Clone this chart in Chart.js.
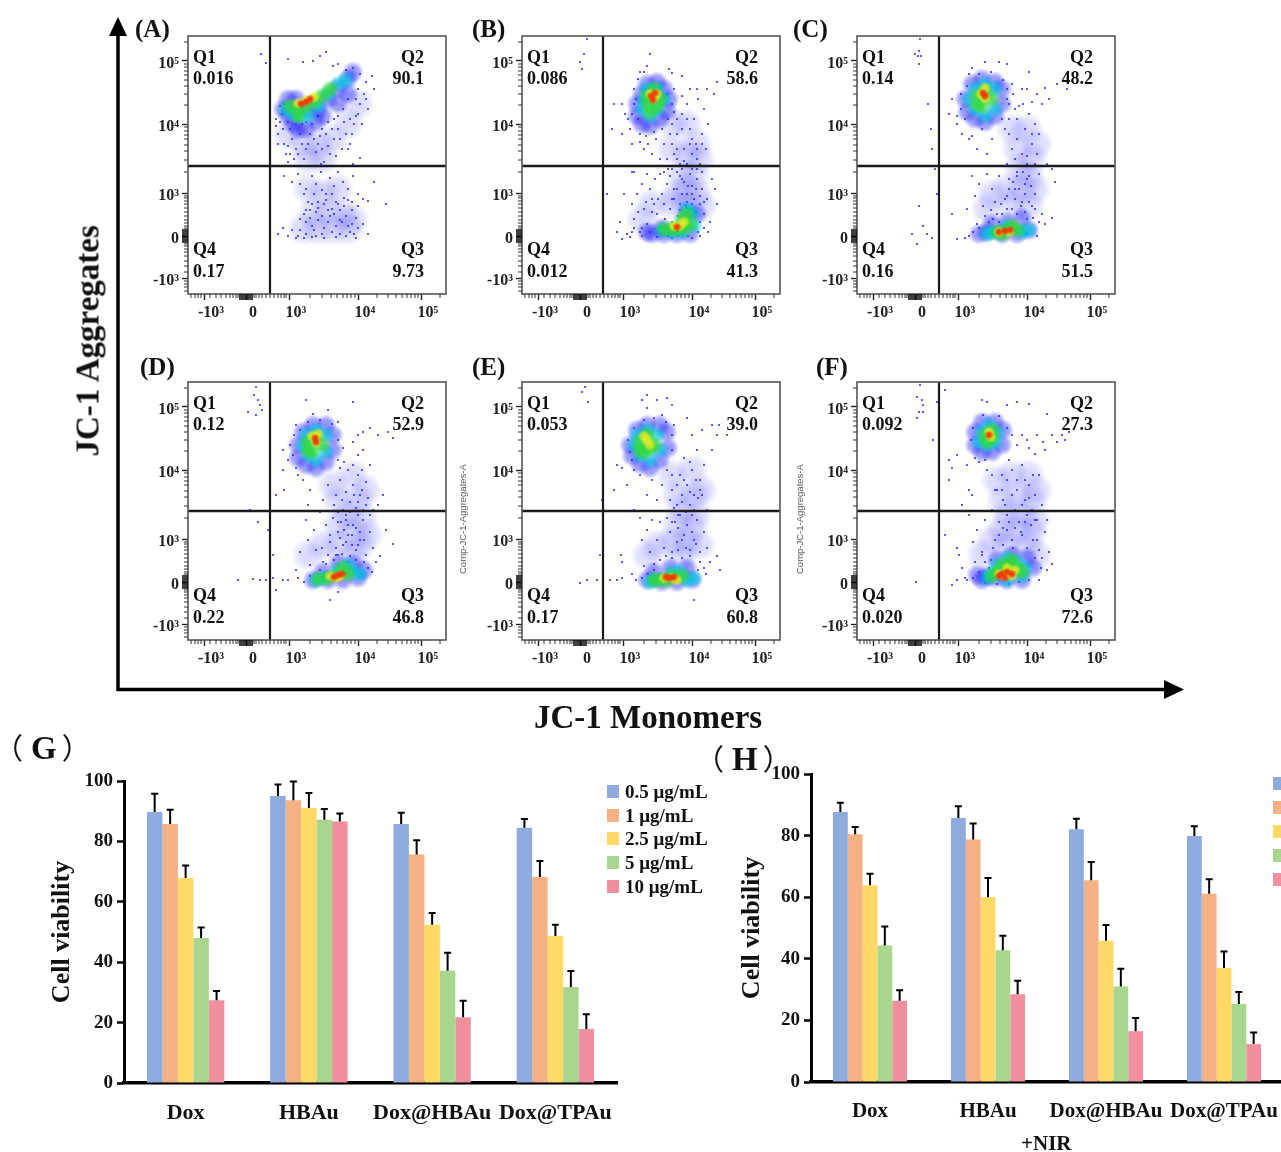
<!DOCTYPE html>
<html><head><meta charset="utf-8">
<script src="https://cdn.jsdelivr.net/npm/chart.js@4"></script>
<style>
html,body{margin:0;padding:0;background:#fff}
#page{position:relative;width:1281px;height:1152px;overflow:hidden;background:#fff;font-family:"Liberation Serif",serif;font-weight:bold;color:#111}
canvas{position:absolute;filter:blur(.45px)}
.t{position:absolute;white-space:nowrap;line-height:1;filter:blur(.3px)}
.sq{position:absolute;width:12px;height:13px}
</style></head><body><div id="page">
<svg style="position:absolute;left:0;top:0" width="1281" height="1152">
<line x1="118" y1="30" x2="118" y2="691" stroke="#000" stroke-width="3.5"/>
<polygon points="118,17 109,36 127,36" fill="#000"/>
<line x1="117" y1="689.5" x2="1168" y2="689.5" stroke="#000" stroke-width="3.5"/>
<polygon points="1184,689.5 1164,680 1164,699" fill="#000"/>
</svg>
</div>
<script>
// Flow panels: values are display channels (0-258) on both axes
const panelIds=['A','B','C','D','E','F'];
const panelBoxX=[188,522,857,188,522,857];
const panelBoxY=[36,36,36,382,382,382];
const letterX=[135,472,793,140,472,816];
const letterY=[16,16,16,354,354,354];
const gateX=[82,81,82,82,81,82];
const gateY=[128,128,128,129,129,129];
const q1Vals=['0.016','0.086','0.14','0.12','0.053','0.092'];
const q2Vals=['90.1','58.6','48.2','52.9','39.0','27.3'];
const q3Vals=['9.73','41.3','51.5','46.8','60.8','72.6'];
const q4Vals=['0.17','0.012','0.16','0.22','0.17','0.020'];
const tickChannels=[16,58,101,170,233];
const tickLabels=['-10³','0','10³','10⁴','10⁵'];
const minorChannels=[3,7,10,13,22,28,33,38,42,45,48,50,66,68,71,74,78,82,86,90,93,96,98,122,134,143,149,155,159,163,167,189,200,208,214,219,223,227,230,252];
const zeroBand=[52,54,56,58,60,62,64];

const A_sparse=[73,240,78,231,90,150,95,165,98,140,100,172,104,155,108,145,112,160,116,135,120,150,124,170,128,142,132,158,136,132,140,148,144,165,148,138,152,155,156,172,160,145,164,160,168,178,172,190,176,200,180,185,170,205,160,195,150,178,140,172,130,178,118,172,106,178,94,180,88,168,92,188,100,235,115,232,125,233,132,238,138,242,145,228,150,230,158,224,165,226,172,220,178,212,184,218,186,205,172,136,165,130,155,128,146,128,133,130,122,128,110,128,100,132,96,118,104,112,110,120,118,105,124,118,128,110,133,122,138,100,142,116,146,108,150,122,155,112,160,105,165,118,170,100,175,95,180,93,186,112,198,90,170,88,164,92,156,96,150,90,144,85,138,94,130,92,124,90,118,84,112,75,116,80,122,76,128,82,134,78,140,72,146,80,152,74,158,78,164,70,170,66,175,70,180,60,166,60,90,60,95,66,100,58,104,64,108,56,116,56,124,57,136,56,148,57,158,58,168,56];
const A_more=[88,175,90,160,92,172,96,150,96,190,100,148,102,165,102,140,106,135,108,170,110,140,114,150,114,170,118,145,122,160,126,155,130,150,134,145,134,165,138,160,142,140,146,155,146,175,150,165,154,145,158,160,162,175,162,150,166,170,170,180,174,170,178,195,155,185,168,195,112,110,116,100,120,92,122,84,126,100,130,86,134,104,136,90,140,84,144,100,148,92,152,84,156,88,160,94,164,84,168,76,112,64,118,72,124,68,130,74,136,66,142,78,148,68,154,72,160,68,110,58,118,60,128,58,126,64,134,60,144,62,152,60,162,62];
const A_haze=[100,160,115,150,130,150,145,155,160,170,170,190,120,135,135,135,120,105,135,100,150,105,125,80,140,82,155,80,165,75,115,65,130,65,145,65,160,65];
const A_navy=[95,185,100,178,105,170,110,165,118,165,100,195,108,195,120,185,130,185,140,195,150,205,160,215,165,222,128,172,135,178,150,190,160,200];
const A_cyan=[98,185,105,180,112,178,120,178,130,188,140,200,150,210,158,214];
const A_green=[102,188,110,185,118,188,126,192,134,198,142,205,110,178];
const A_yellow=[110,191,118,194,126,197];
const A_red=[113,190,118,192,122,195];

const B_sparse=[65,255,62,240,60,225,58,232,103,180,108,165,112,190,110,150,116,175,118,152,122,145,126,150,130,140,134,155,138,135,142,150,146,125,150,170,152,140,155,160,158,130,160,180,162,145,165,190,168,165,170,140,172,175,174,150,176,195,178,130,180,160,182,185,184,145,186,170,150,190,145,200,152,205,160,198,168,205,175,205,185,205,192,200,195,212,128,240,125,228,122,222,147,225,150,221,160,218,118,222,116,215,100,190,92,190,90,165,145,135,150,150,155,145,162,133,168,150,175,135,100,160,105,60,110,90,112,75,115,100,118,62,120,110,122,85,125,70,128,105,130,95,133,115,135,80,138,120,140,100,143,75,145,110,148,118,150,95,152,105,155,122,158,90,160,115,165,100,168,120,170,108,172,95,175,115,178,90,180,105,182,80,185,95,188,72,186,62,178,58,170,56,120,58,135,57,150,56,100,55,108,57,98,72,102,100,125,120,112,122,132,90,142,122,180,122,190,115,195,90,193,105,85,100,110,122,95,62];
const B_more=[155,175,160,165,165,175,170,155,175,145,180,150,148,160,155,135,160,125,165,130,170,125,175,125,150,125,158,118,162,112,166,108,170,100,174,105,160,100,165,92,155,105,152,95,158,84,164,88,170,90,178,98,182,92,148,85,142,90,136,95,130,82,124,92,116,82,112,66,120,66,128,62,136,62,144,66,150,72,156,78,168,78,174,82,178,72,182,66,176,62,166,58,156,58,146,58,110,62,106,175,110,180,114,195,112,205,118,160,124,158,132,162,140,165,146,175,152,182];
const B_haze=[150,170,165,170,175,150,150,145,165,140,178,135,160,120,172,118,165,105,155,100,175,100,150,90,130,90,120,75,165,88,180,88];
const B_navy=[115,190,120,200,125,210,135,212,142,205,147,195,115,178,120,170,128,168,138,175,145,183,175,80,165,82,130,60,142,60,155,60,168,60,125,62,140,66];
const B_cyan=[122,195,125,205,135,205,142,195,120,185,128,178,135,185,165,85,170,80,160,62,150,62,172,68,140,64];
const B_green=[126,190,132,205,138,195,128,182,135,188,125,198,165,80,160,75,168,70,155,65,150,65,162,66,142,65];
const B_yellow=[128,200,132,196,135,200,152,68,158,68,162,72];
const B_red=[129,198,133,201,131,194,155,67];

const C_sparse=[61,238,58,240,64,238,62,230,62,243,63,255,80,100,71,190,74,165,75,145,78,125,60,50,55,60,70,60,75,56,82,55,62,88,66,68,95,80,100,55,108,56,110,85,115,118,118,98,120,70,122,110,126,88,130,120,132,72,135,105,138,92,142,118,145,80,150,98,152,115,155,85,158,105,160,122,165,92,168,110,170,75,172,118,175,88,178,100,182,120,185,80,188,70,195,76,198,112,170,60,180,58,115,158,120,145,125,165,130,140,135,155,100,170,105,160,95,195,92,180,150,130,155,145,160,175,160,155,165,140,168,165,170,130,172,180,175,150,178,170,180,140,182,160,185,190,190,130,195,125,150,195,155,210,165,205,175,192,180,200,188,206,192,195,200,210,210,205,172,222,150,230,142,232,128,232,115,226,112,220,100,178,152,160,145,175,112,155,162,188,170,205];
const C_more=[158,135,162,128,166,122,170,115,174,108,162,105,168,100,156,112,152,105,148,95,158,95,164,88,172,92,178,85,176,76,182,72,150,85,144,90,140,80,134,84,128,78,122,66,116,62,112,58,136,75,142,72,160,80,168,82,160,118,170,138,175,160,178,130,148,165,152,175,158,185,166,190,150,205,156,200,108,175,104,185,104,200,110,208,122,220,134,222,146,214,152,190];
const C_haze=[155,165,170,165,180,150,160,145,175,135,162,125,172,118,165,105,150,105,178,105,135,100,155,90,172,88,130,85];
const C_navy=[108,195,115,210,125,215,138,212,145,205,110,182,118,175,128,172,138,178,145,190,130,62,145,60,160,60,172,64,122,60,150,72,135,70,165,76];
const C_cyan=[118,205,128,210,138,205,112,195,118,185,128,178,138,185,135,62,165,62,150,68,172,64,130,60];
const C_green=[120,198,128,203,134,195,125,188,120,190,140,62,150,64,160,64,145,60,155,68];
const C_yellow=[124,200,128,196,128,206,142,62,152,62];
const C_red=[126,201,128,198,142,62,148,63,153,64];

const D_sparse=[68,253,66,245,70,240,72,235,60,228,68,225,74,230,88,145,62,130,70,118,80,110,85,85,50,60,65,61,72,60,78,60,85,62,95,60,100,60,88,50,108,70,112,88,118,120,120,100,122,75,126,110,128,90,132,128,135,78,138,115,142,98,145,122,148,85,150,108,153,118,155,95,158,125,160,105,165,115,168,90,170,125,172,100,175,120,178,85,182,108,185,92,188,78,192,84,198,110,205,96,150,48,142,40,135,140,140,155,148,145,152,160,155,130,158,148,160,170,162,138,165,155,168,132,170,165,172,145,175,130,178,158,180,142,182,175,185,130,190,135,195,145,120,135,122,150,115,160,110,165,100,180,108,172,95,190,150,180,155,192,165,198,170,205,175,190,182,212,190,205,200,208,205,202,140,230,165,238,118,240,125,226,108,215,150,218,175,208,142,60,150,75,96,150,95,170];
const D_more=[146,135,150,128,154,140,158,120,162,128,166,145,170,138,174,150,178,135,182,125,150,118,156,110,160,115,164,105,168,112,172,108,176,100,152,102,158,98,164,95,170,95,148,92,142,105,146,80,140,85,134,92,154,86,162,84,168,80,176,78,180,72,184,68,110,62,116,58,122,64,132,70,138,76,160,78,150,85,105,185,102,195,106,205,112,210,120,218,132,220,144,216,150,200,152,172,156,178,165,175,174,170,170,185];
const D_haze=[145,155,165,165,178,150,150,140,170,140,160,125,175,122,150,115,165,108,180,105,150,95,172,95,135,95,120,85,165,85];
const D_navy=[110,195,115,208,125,215,138,215,145,205,110,182,118,175,128,172,138,178,145,190,176,70,125,60,140,60,155,60,170,62,150,76,135,68,165,76];
const D_cyan=[118,205,128,210,138,205,115,195,120,185,128,180,138,188,135,62,165,68,150,70,172,66,128,60,160,75];
const D_green=[120,198,128,203,134,195,124,188,120,190,140,62,150,66,160,66,130,61,155,72];
const D_yellow=[124,204,128,198,130,206,142,64,152,64,148,62];
const D_red=[127,202,128,198,146,63,150,65,154,66];

const E_sparse=[63,253,60,248,66,238,81,165,80,140,78,85,75,60,65,60,58,57,88,60,95,60,100,62,100,78,99,85,92,150,95,175,105,155,112,130,118,122,120,100,122,74,125,110,128,88,130,120,132,70,135,100,138,118,142,92,145,122,148,108,150,82,153,118,155,98,158,125,162,105,165,115,168,90,170,125,172,100,175,120,178,88,182,108,185,92,188,78,195,84,198,70,172,40,125,145,130,160,135,140,140,155,145,170,150,150,155,135,158,165,160,145,162,182,165,155,168,135,170,170,172,145,175,190,178,160,180,145,182,175,185,130,190,190,118,165,112,170,100,172,110,180,120,240,125,245,135,240,145,242,150,235,125,232,140,225,165,222,180,210,190,215,197,215,205,205,195,205,152,215,170,205];
const E_more=[148,140,152,132,156,125,160,138,164,128,168,148,172,130,176,142,150,165,155,155,162,160,168,178,174,160,178,150,150,118,156,112,160,100,164,92,170,108,174,96,178,78,182,72,156,90,150,88,144,84,138,80,132,76,126,66,120,62,114,60,110,66,160,82,168,84,176,70,184,66,108,188,106,200,112,212,122,220,132,222,144,218,150,205,150,190];
const E_haze=[150,165,170,170,180,150,155,145,172,145,160,130,175,125,155,115,170,112,150,98,165,98,178,95,135,95,125,85,160,85];
const E_navy=[108,195,115,210,125,215,138,215,145,208,110,184,118,176,128,172,138,180,146,192,125,60,140,58,155,58,170,60,132,68,148,72,165,72];
const E_cyan=[115,205,125,210,135,205,112,195,118,185,128,180,138,190,132,60,165,60,150,68,172,62,128,58,158,68];
const E_green=[118,198,125,205,132,195,122,188,128,192,118,190,138,60,150,64,160,64,132,60,145,60];
const E_yellow=[125,200,128,195,122,204,142,62,150,62,155,60];
const E_red=[144,63,148,62,152,63];

const F_sparse=[63,255,60,243,65,240,66,235,62,228,60,222,80,238,88,250,66,228,59,58,76,200,92,160,110,175,112,150,115,145,105,135,95,172,100,185,92,180,88,105,100,92,102,85,105,72,95,55,100,60,108,62,112,125,116,98,118,78,120,110,125,88,128,120,132,72,135,130,138,100,140,150,142,118,145,165,148,135,150,125,152,180,155,145,158,130,160,160,162,118,165,175,168,140,170,125,172,155,175,130,178,145,180,120,182,165,185,135,188,108,190,120,195,76,192,88,188,190,195,205,205,205,208,200,212,208,200,198,180,205,172,192,160,195,150,235,160,238,172,236,190,226,125,240,130,238,130,170,135,165,138,150,145,150,150,110,155,100,165,105,170,92,180,100,185,82,190,70,182,60];
const F_more=[146,140,150,160,155,170,160,150,165,135,168,160,172,142,176,165,178,120,174,115,168,118,164,108,158,112,152,118,146,112,142,105,136,92,146,95,156,92,176,100,182,90,178,82,184,72,128,78,122,68,116,62,110,60,134,80,125,85,172,60,162,58,152,56,140,56,128,57,178,186,186,198,170,200,165,205,155,205,118,182,122,178,128,180,114,200,116,212,126,225,142,224,150,212];
const F_haze=[140,160,155,165,172,165,180,150,145,140,160,145,175,140,150,125,165,125,178,120,145,110,160,110,175,108,135,100,150,95,170,95,125,85,180,85];
const F_navy=[118,208,125,218,138,218,146,210,118,195,125,188,135,188,145,195,140,80,130,64,176,72,165,60,150,60,138,62,155,85,125,60,120,65,170,82];
const F_cyan=[125,208,132,215,140,208,122,198,130,195,138,198,140,75,150,82,160,78,168,72,165,64,135,66,130,62,150,60];
const F_green=[128,205,135,210,135,202,130,198,145,75,155,80,160,72,140,68,150,68,165,68,135,64,152,75];
const F_yellow=[132,208,134,203,142,66,150,72,158,70,148,64,155,64];
const F_red=[132,205,142,64,150,68,155,66,148,62,145,66];

// Bar panels
const barCategories=['Dox','HBAu','Dox@HBAu','Dox@TPAu'];
const seriesNames=['0.5 μg/mL','1 μg/mL','2.5 μg/mL','5 μg/mL','10 μg/mL'];
const seriesColors=['#8faadc','#f4b183','#ffd966','#a9d68e','#f0909f'];
const G_05=[89.7,95,85.8,84.5], G_1=[85.8,93.6,75.7,68.2], G_25=[67.9,91.1,52.4,48.7], G_5=[48,87.2,37.2,31.8], G_10=[27.4,86.6,21.8,17.9];
const G_05top=[95.8,98.8,89.5,87.4], G_1top=[90.5,99.8,80.4,73.5], G_25top=[72,96,56.3,52.4], G_5top=[51.5,90.7,43.1,37.1], G_10top=[30.5,89.2,27.2,22.8];
const H_05=[87.7,85.7,82.1,79.9], H_1=[80.4,78.7,65.5,61.1], H_25=[63.9,60,45.9,37], H_5=[44.3,42.8,31,25.3], H_10=[26.4,28.5,16.5,12.3];
const H_05top=[90.7,89.5,85.5,83], H_1top=[82.8,83.9,71.4,65.8], H_25top=[67.6,66.2,51,42.4], H_5top=[50.5,47.5,36.8,29.2], H_10top=[29.8,32.9,20.8,16.1];
const viabilityTicks=[0,20,40,60,80,100];

const panelData={A:[A_haze,A_navy,A_sparse.concat(A_more),A_cyan,A_green,A_yellow,A_red],B:[B_haze,B_navy,B_sparse.concat(B_more),B_cyan,B_green,B_yellow,B_red],C:[C_haze,C_navy,C_sparse.concat(C_more),C_cyan,C_green,C_yellow,C_red],D:[D_haze,D_navy,D_sparse.concat(D_more),D_cyan,D_green,D_yellow,D_red],E:[E_haze,E_navy,E_sparse.concat(E_more),E_cyan,E_green,E_yellow,E_red],F:[F_haze,F_navy,F_sparse.concat(F_more),F_cyan,F_green,F_yellow,F_red]};
function sprite(rgb,r,a){const c=document.createElement('canvas');c.width=c.height=2*r;const x=c.getContext('2d'),g=x.createRadialGradient(r,r,0,r,r,r);
 g.addColorStop(0,`rgba(${rgb},${a})`);g.addColorStop(.55,`rgba(${rgb},${a*.75})`);g.addColorStop(1,`rgba(${rgb},0)`);x.fillStyle=g;x.fillRect(0,0,2*r,2*r);return c;}
const layerSprites=[sprite('50,50,250',17,.2),sprite('20,20,245',11,.5),null,sprite('0,200,225',9,.75),sprite('50,215,60',9,.85),sprite('235,235,30',6,.9),sprite('240,45,10',4.5,1)];
const SERIF='"Liberation Serif",serif';
const page=document.getElementById('page');
function addText(s,x,y,size,extra){const d=document.createElement('div');d.className='t';d.innerHTML=s;d.style.left=x+'px';d.style.top=y+'px';d.style.fontSize=size+'px';if(extra)Object.assign(d.style,extra);page.appendChild(d);return d;}
function addCanvas(x,y,w,h){const c=document.createElement('canvas');c.width=w;c.height=h;c.style.left=x+'px';c.style.top=y+'px';c.style.width=w+'px';c.style.height=h+'px';page.appendChild(c);return c;}
function pairs(a){const o=[];for(let i=0;i<a.length;i+=2)o.push({x:a[i],y:a[i+1]});return o;}

const flowPlugin={id:'flow',afterDraw(ch,_,o){const c=ch.ctx,a=ch.chartArea,X=ch.scales.x,Y=ch.scales.y;
 c.save();c.strokeStyle='#555';c.lineWidth=1.6;c.strokeRect(a.left,a.top,a.width,a.height);
 c.strokeStyle='#333';c.lineWidth=1;c.beginPath();
 minorChannels.forEach(v=>{const p=X.getPixelForValue(v);c.moveTo(p,a.bottom);c.lineTo(p,a.bottom+4);const q=Y.getPixelForValue(v);c.moveTo(a.left,q);c.lineTo(a.left-4,q);});c.stroke();
 c.strokeStyle='#000';c.lineWidth=1.5;c.beginPath();
 zeroBand.forEach(v=>{const p=X.getPixelForValue(v);c.moveTo(p,a.bottom);c.lineTo(p,a.bottom+6);const q=Y.getPixelForValue(v);c.moveTo(a.left,q);c.lineTo(a.left-6,q);});c.stroke();
 c.fillStyle='#111';c.font='bold 18px '+SERIF;c.textBaseline='middle';
 c.textAlign='left';c.fillText('Q1',X.getPixelForValue(5),Y.getPixelForValue(236));c.fillText(o.q[0],X.getPixelForValue(5),Y.getPixelForValue(215));
 c.fillText('Q4',X.getPixelForValue(5),Y.getPixelForValue(44));c.fillText(o.q[3],X.getPixelForValue(5),Y.getPixelForValue(22));
 c.textAlign='right';c.fillText('Q2',X.getPixelForValue(236),Y.getPixelForValue(236));c.fillText(o.q[1],X.getPixelForValue(236),Y.getPixelForValue(215));
 c.fillText('Q3',X.getPixelForValue(236),Y.getPixelForValue(44));c.fillText(o.q[2],X.getPixelForValue(236),Y.getPixelForValue(22));
 c.restore();}};

panelIds.forEach((id,i)=>{
 const L=60,T=10,cv=addCanvas(panelBoxX[i]-L,panelBoxY[i]-T,L+258+10,T+258+45);
 const ds=panelData[id].map((arr,k)=>{const sp=layerSprites[k];return {type:'scatter',data:pairs(arr),pointRadius:1,pointHoverRadius:0,pointStyle:sp||'circle',pointBackgroundColor:'#2222ff',pointBorderWidth:0,order:10-k};});
 ds.push({type:'scatter',showLine:true,data:[{x:gateX[i],y:0},{x:gateX[i],y:258}],borderColor:'#1a1a1a',borderWidth:2.2,pointRadius:0,order:0});
 ds.push({type:'scatter',showLine:true,data:[{x:0,y:gateY[i]},{x:258,y:gateY[i]}],borderColor:'#1a1a1a',borderWidth:2.4,pointRadius:0,order:0});
 const axis=(off)=>({type:'linear',min:0,max:258,border:{display:false},
   afterBuildTicks(s){s.ticks=tickChannels.map(v=>({value:v}));},
   grid:{display:true,drawOnChartArea:false,tickLength:6,tickColor:'#222',tickWidth:1.4},
   ticks:{autoSkip:false,maxRotation:0,callback:(v)=>tickLabels[tickChannels.indexOf(v)],font:{family:SERIF,weight:'bold',size:16},color:'#222',labelOffset:off,padding:3}});
 const xa=axis(7),ya=axis(3);
 xa.afterFit=s=>{s.height=45;s.paddingLeft=0;s.paddingRight=0;};ya.afterFit=s=>{s.width=L;s.paddingTop=0;s.paddingBottom=0;};
 new Chart(cv,{type:'scatter',data:{datasets:ds},plugins:[flowPlugin],options:{responsive:false,animation:false,devicePixelRatio:1,layout:{padding:{top:T,right:10}},plugins:{legend:{display:false},tooltip:{enabled:false},flow:{q:[q1Vals[i],q2Vals[i],q3Vals[i],q4Vals[i]]}},scales:{x:xa,y:ya}}});
 addText('('+id+')',letterX[i],letterY[i],25);
});

const errPlugin={id:'err',afterDatasetsDraw(ch,_,o){const c=ch.ctx,Y=ch.scales.y;c.save();c.strokeStyle='#000';c.lineWidth=2;
 o.tops.forEach((t,i)=>{ch.getDatasetMeta(i).data.forEach((b,j)=>{const y0=Y.getPixelForValue(ch.data.datasets[i].data[j]),y1=Y.getPixelForValue(t[j]);c.beginPath();c.moveTo(b.x,y0);c.lineTo(b.x,y1);c.moveTo(b.x-3.5,y1);c.lineTo(b.x+3.5,y1);c.stroke();});});c.restore();}};
function barChart(cx,cy,w,h,axisW,padTop,padRight,bottom,titlePad,xFont,values,tops,catPct){
 const cv=addCanvas(cx,cy,w,h);
 new Chart(cv,{type:'bar',data:{labels:barCategories,datasets:values.map((v,i)=>({label:seriesNames[i],data:v,backgroundColor:seriesColors[i],borderWidth:0}))},plugins:[errPlugin],
 options:{responsive:false,animation:false,devicePixelRatio:1,layout:{padding:{top:padTop,right:padRight}},plugins:{legend:{display:false},tooltip:{enabled:false},err:{tops}},
 datasets:{bar:{categoryPercentage:catPct,barPercentage:1}},
 scales:{x:{grid:{display:false},border:{display:true,color:'#000',width:3.5},afterFit:s=>{s.height=bottom;s.paddingLeft=0;s.paddingRight=0;},ticks:{autoSkip:false,maxRotation:0,padding:9,color:'#111',font:{family:SERIF,weight:'bold',size:xFont}}},
 y:{min:0,max:100,afterBuildTicks(s){s.ticks=viabilityTicks.map(v=>({value:v}));},afterFit:s=>{s.width=axisW;s.paddingTop=0;s.paddingBottom=0;},grid:{drawOnChartArea:false,tickLength:7,tickColor:'#000',tickWidth:2.5},border:{display:true,color:'#000',width:3},ticks:{padding:4,color:'#111',font:{family:SERIF,weight:'bold',size:19}},title:{display:true,text:'Cell viability',color:'#111',padding:{top:titlePad,bottom:0},font:{family:SERIF,weight:'bold',size:26}}}}}});
}
barChart(0,760,640,392,124,21,23,69,47,22,[G_05,G_1,G_25,G_5,G_10],[G_05top,G_1top,G_25top,G_5top,G_10top],.628);
barChart(700,753,590,399,111,21,7,70,37,21,[H_05,H_1,H_25,H_5,H_10],[H_05top,H_1top,H_25top,H_5top,H_10top],.628);

const gLegendY=[785,809,832,856,880],hLegendY=[777,801,825,849,873];
seriesNames.forEach((n,i)=>{
 let s=document.createElement('div');s.className='sq';s.style.left='607px';s.style.top=gLegendY[i]+'px';s.style.background=seriesColors[i];page.appendChild(s);
 addText(n,625,gLegendY[i]-3,19);
 s=document.createElement('div');s.className='sq';s.style.left='1273px';s.style.top=hLegendY[i]+'px';s.style.background=seriesColors[i];page.appendChild(s);
});
addText('JC-1 Monomers',534,701,33);
addText('JC-1 Aggregates',-30,322,33,{transform:'rotate(-90deg)',width:'236px'});
const CJ='<span style="font-family:\'Noto Sans CJK SC\';font-weight:400;font-size:29px">';
const LM='<span style="margin-left:8px"></span>',RM='<span style="margin-left:5px"></span>';
addText(CJ+'（</span>'+LM+'G'+RM+CJ+'）</span>',-6,732,33);
addText(CJ+'（</span>'+LM+'H'+RM+CJ+'）</span>',695,743,33);
addText('+NIR',1021,1133,21);
const compStyle={fontFamily:'"Liberation Sans",sans-serif',fontWeight:'normal',color:'#555',transform:'rotate(-90deg)',transformOrigin:'left top'};
addText('Comp-JC-1-Aggregates-A',458,574,9.5,compStyle);
addText('Comp-JC-1-Aggregates-A',795,574,9.5,compStyle);
</script></body></html>
